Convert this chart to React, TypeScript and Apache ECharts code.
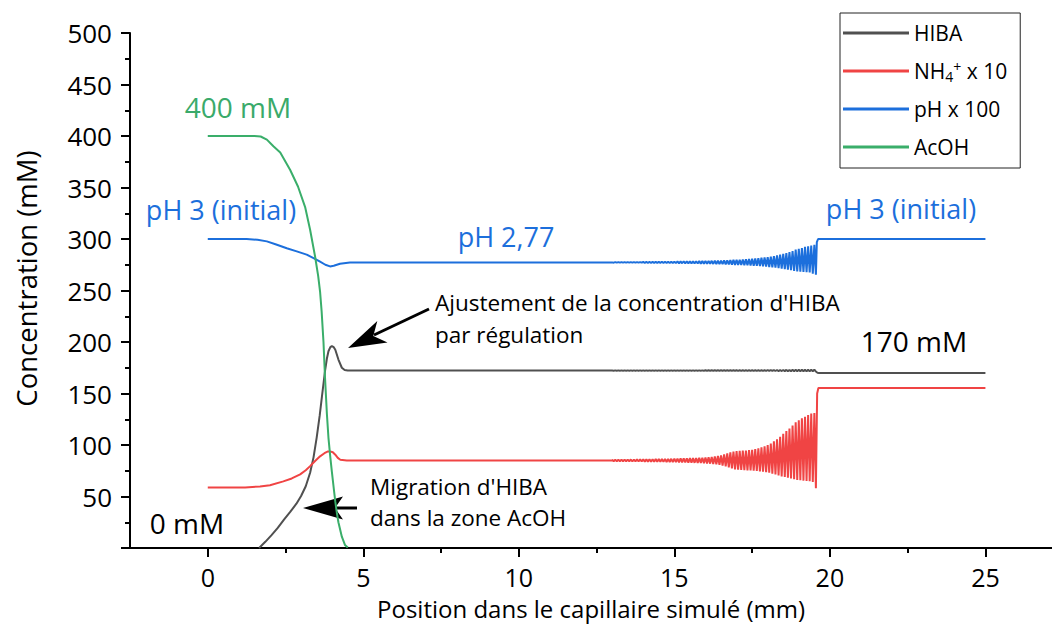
import React, { useEffect, useRef } from 'react';
import * as echarts from 'echarts';

const FONT = '"Open Sans", "Noto Sans", sans-serif';

// Axis ticks
const xMajorTicks = [0, 5, 10, 15, 20, 25];
const xMinorTicks = [2.5, 7.5, 12.5, 17.5, 22.5];

const seriesNames = ['HIBA', 'NH4+ x 10', 'pH x 100', 'AcOH'];
const seriesColors = ['#505050', '#f04444', '#1c6fdc', '#3aae6a'];

// AcOH (mM)
const acohX = [0, 1.5, 1.7, 1.9, 2.11, 2.33, 2.65, 2.9, 3.13, 3.29, 3.45, 3.55, 3.61, 3.66, 3.72, 3.77, 3.83, 3.88, 3.94, 3.99, 4.05, 4.1, 4.15, 4.2, 4.31, 4.41, 4.5];
const acohY = [400, 400, 399.5, 396.5, 390, 384, 367, 351, 331, 309, 283, 264, 249, 230, 200, 165, 130, 107, 88, 74, 58, 45, 34, 25, 11, 3, 0.5];

// HIBA (mM): rising front, regulation peak, plateau
const hibaLeadX = [1.65, 1.85, 2.05, 2.25, 2.45, 2.65, 2.85, 3.0, 3.15, 3.29, 3.4, 3.5, 3.6, 3.67, 3.77, 3.83, 3.88, 3.94, 3.99, 4.05, 4.1, 4.2, 4.31, 4.4, 4.5, 13.0];
const hibaLeadY = [0, 6, 12.5, 19.5, 27.5, 35, 43, 50.5, 60, 73, 88, 107, 129, 147, 172, 184, 191, 195, 196, 195, 192.5, 183, 175, 172.8, 172.3, 172.3];
const hibaBase = 172.3;
const hibaAmp = [
  0.15, 0.15, 0.15, 0.15, 0.15, 0.15, 0.15, 0.15, 0.15, 0.15,
  0.15, 0.15, 0.15, 0.15, 0.15, 0.15, 0.15, 0.15, 0.15, 0.15,
  0.15, 0.15, 0.15, 0.15, 0.15, 0.15, 0.15, 0.15, 0.15, 0.15,
  0.2, 0.2, 0.2, 0.2, 0.2, 0.2, 0.2, 0.2, 0.2, 0.2,
  0.3, 0.3, 0.3, 0.3, 0.3, 0.3, 0.3, 0.3, 0.3, 0.3,
  0.4, 0.4, 0.45, 0.5, 0.5, 0.55, 0.6, 0.6, 0.65, 0.7,
  0.7, 0.75, 0.8, 0.8, 0.9, 1.0,
];
const hibaTailX = [19.6, 19.65, 25];
const hibaTailY = [170.2, 170, 170];

// NH4+ x 10
const nh4LeadX = [0, 1.2, 1.68, 2.0, 2.43, 2.7, 2.97, 3.15, 3.29, 3.45, 3.61, 3.75, 3.85, 3.93, 4.02, 4.1, 4.18, 4.26, 4.47, 13.0];
const nh4LeadY = [58.8, 58.8, 59.8, 61, 64.7, 67.5, 71.5, 75.5, 79.5, 84.5, 89, 92, 93.6, 93.8, 93, 90.6, 87.5, 85.7, 85, 85];
const nh4Base = 85;
const nh4Up = [
  0.7, 0.7, 0.7, 0.8, 0.8, 0.8, 0.9, 0.9, 1.0, 1.0,
  1.1, 1.1, 1.2, 1.2, 1.3, 1.3, 1.4, 1.5, 1.5, 1.6,
  1.7, 1.8, 1.9, 2.0, 2.1, 2.2, 2.3, 2.4, 2.5, 2.7,
  2.9, 3.1, 3.4, 3.8, 4.3, 5.0, 5.8, 6.8, 7.8, 8.6,
  9.0, 9.3, 9.5, 9.7, 10.0, 10.4, 11.0, 11.8, 12.8, 13.8,
  15, 16.5, 18.5, 20.5, 23, 26, 28.5, 31, 34, 37,
  39, 41, 42.5, 44, 45.5, 46,
];
const nh4Down = [
  0.7, 0.7, 0.7, 0.8, 0.8, 0.8, 0.9, 0.9, 1.0, 1.0,
  1.1, 1.1, 1.2, 1.2, 1.3, 1.3, 1.4, 1.5, 1.5, 1.6,
  1.7, 1.8, 1.9, 2.0, 2.1, 2.2, 2.3, 2.4, 2.5, 2.7,
  2.9, 3.1, 3.4, 3.8, 4.3, 5.0, 5.8, 6.8, 7.8, 8.6,
  9.0, 9.2, 9.4, 9.6, 9.7, 9.9, 10.2, 10.6, 11.0, 11.5,
  12, 12.8, 13.5, 14.5, 15.5, 16, 16.8, 17.5, 18.3, 19,
  19.3, 19.6, 20, 20.2, 21, 27,
];
const nh4TailX = [19.59, 19.63, 25];
const nh4TailY = [150, 155.3, 155.3];

// pH x 100
const phLeadX = [0, 1.25, 1.6, 1.9, 2.2, 2.54, 2.86, 3.18, 3.4, 3.61, 3.78, 3.93, 4.05, 4.25, 4.57, 4.9, 13.0];
const phLeadY = [300, 300, 299.2, 297.7, 294.6, 291, 288, 284.8, 281.5, 278, 275, 273.4, 274, 276, 277.2, 277.3, 277.3];
const phBase = 277.3;
const phUp = [
  0.3, 0.3, 0.3, 0.3, 0.3, 0.3, 0.3, 0.3, 0.3, 0.3,
  0.4, 0.4, 0.4, 0.5, 0.5, 0.5, 0.6, 0.6, 0.6, 0.7,
  0.7, 0.8, 0.8, 0.9, 0.9, 1.0, 1.0, 1.1, 1.2, 1.2,
  1.3, 1.4, 1.5, 1.6, 1.7, 1.8, 1.9, 2.0, 2.2, 2.4,
  2.5, 2.6, 2.8, 3.0, 3.2, 3.5, 3.8, 4.1, 4.5, 4.8,
  5.0, 5.5, 6.0, 6.8, 7.5, 8.2, 9.0, 10, 11, 12.5,
  13.2, 14, 15, 15.5, 16.3, 17,
];
const phDown = [
  0.3, 0.3, 0.3, 0.3, 0.3, 0.3, 0.3, 0.3, 0.3, 0.3,
  0.4, 0.4, 0.4, 0.5, 0.5, 0.5, 0.6, 0.6, 0.6, 0.7,
  0.7, 0.8, 0.8, 0.9, 0.9, 1.0, 1.0, 1.1, 1.2, 1.2,
  1.3, 1.4, 1.5, 1.6, 1.7, 1.8, 1.9, 2.0, 2.2, 2.4,
  2.5, 2.6, 2.7, 2.9, 3.0, 3.2, 3.4, 3.6, 3.9, 4.2,
  4.5, 4.8, 5.2, 5.6, 6.0, 6.6, 7.0, 7.5, 8.2, 8.8,
  9.0, 9.3, 9.6, 9.8, 11, 12,
];
const phTailX = [19.58, 19.62, 25];
const phTailY = [297, 300, 300];

// sampling grid of the oscillating zone (mm)
const oscStart = 13.0;
const oscStep = 0.1;

function zip(xs: number[], ys: number[]) {
  return xs.map((x, i) => [x, ys[i]]);
}
function osc(base: number, up: number[], down: number[]) {
  const out: number[][] = [];
  up.forEach((u, k) => {
    const x = +(oscStart + k * oscStep).toFixed(3);
    out.push([x, base + u]);
    out.push([+(x + oscStep / 2).toFixed(3), base - down[k]]);
  });
  return out;
}

const hibaData = [...zip(hibaLeadX, hibaLeadY), ...osc(hibaBase, hibaAmp, hibaAmp), ...zip(hibaTailX, hibaTailY)];
const nh4Data = [...zip(nh4LeadX, nh4LeadY), ...osc(nh4Base, nh4Up, nh4Down), ...zip(nh4TailX, nh4TailY)];
const phData = [...zip(phLeadX, phLeadY), ...osc(phBase, phUp, phDown), ...zip(phTailX, phTailY)];
const acohData = zip(acohX, acohY);
const allData = [hibaData, nh4Data, phData, acohData];

function txt(text: string, x: number, y: number, size: number, fill: string, align = 'center') {
  return {
    type: 'text', x, y, silent: true,
    style: { text, fill, fontSize: size, fontFamily: FONT, align, verticalAlign: 'middle' },
  };
}

export default function App() {
  const ref = useRef<HTMLDivElement>(null);
  useEffect(() => {
    if (!ref.current) return;
    const chart = echarts.init(ref.current, undefined, { renderer: 'svg' });
    const axisLineStyle = { color: '#000', width: 2 };
    chart.setOption({
      animation: false,
      backgroundColor: '#fff',
      grid: { left: 130, right: 0, top: 33, bottom: 79, containLabel: false },
      legend: {
        data: seriesNames,
        orient: 'vertical',
        left: 840,
        top: 13,
        icon: 'rect',
        itemWidth: 66,
        itemHeight: 3,
        itemGap: 14,
        padding: [8, 13, 9, 3],
        borderColor: '#222',
        borderWidth: 1,
        backgroundColor: '#fff',
        selectedMode: false,
        formatter: (name: string) => (name === 'NH4+ x 10' ? '{n|NH}{sub|4}{sup|+}{n| x 10}' : name),
        textStyle: {
          fontFamily: FONT, fontSize: 21, color: '#000', lineHeight: 24,
          rich: {
            n: { fontFamily: FONT, fontSize: 21, color: '#000', lineHeight: 24, verticalAlign: 'middle' },
            sub: { fontFamily: FONT, fontSize: 14, color: '#000', lineHeight: 14, verticalAlign: 'bottom' },
            sup: { fontFamily: FONT, fontSize: 14, color: '#000', lineHeight: 14, verticalAlign: 'top' },
          },
        },
      },
      xAxis: [
        {
          type: 'value', min: -2.5, max: 27.14,
          axisLine: { show: true, onZero: false, lineStyle: axisLineStyle },
          axisTick: { show: true, customValues: xMajorTicks, length: 9, lineStyle: axisLineStyle },
          axisLabel: { customValues: xMajorTicks, fontFamily: FONT, fontSize: 25, color: '#000', margin: 16 },
          splitLine: { show: false },
          name: 'Position dans le capillaire simulé (mm)',
          nameLocation: 'middle', nameGap: 48,
          nameTextStyle: { fontFamily: FONT, fontSize: 24, color: '#000' },
        },
        {
          type: 'value', min: -2.5, max: 27.14, position: 'bottom',
          axisLine: { show: false, onZero: false },
          axisTick: { show: true, customValues: xMinorTicks, length: 5, lineStyle: axisLineStyle },
          axisLabel: { show: false },
          splitLine: { show: false },
        },
      ],
      yAxis: {
        type: 'value', min: 0, max: 500, interval: 50,
        axisLine: { show: true, onZero: false, lineStyle: axisLineStyle },
        axisTick: { show: true, length: 9, lineStyle: axisLineStyle },
        minorTick: { show: true, splitNumber: 2, length: 5, lineStyle: axisLineStyle },
        splitLine: { show: false },
        minorSplitLine: { show: false },
        axisLabel: { showMinLabel: false, fontFamily: FONT, fontSize: 26, color: '#000', margin: 18 },
        name: 'Concentration (mM)',
        nameLocation: 'middle', nameGap: 90,
        nameTextStyle: { fontFamily: FONT, fontSize: 27.5, color: '#000', padding: [0, 0, 0, 24] },
      },
      series: seriesNames.map((name, i) => ({
        type: 'line', name, data: allData[i], xAxisIndex: 0, yAxisIndex: 0,
        symbol: 'none', showSymbol: false, silent: true,
        lineStyle: { width: 2, color: seriesColors[i] },
        itemStyle: { color: seriesColors[i] },
      })),
      graphic: [
        txt('400 mM', 238, 107, 28, '#3aaa6a'),
        txt('pH 3 (initial)', 221, 209, 27, '#1c6fdc'),
        txt('pH 2,77', 506, 236, 27, '#1c6fdc'),
        txt('pH 3 (initial)', 901, 208, 27, '#1c6fdc'),
        txt('170 mM', 914, 341, 28, '#000'),
        txt('0 mM', 187, 523, 28, '#000'),
        txt("Ajustement de la concentration d'HIBA", 435, 302, 22.5, '#000', 'left'),
        txt('par régulation', 435, 334, 22.5, '#000', 'left'),
        txt("Migration d'HIBA", 370, 486, 22.5, '#000', 'left'),
        txt('dans la zone AcOH', 370, 517, 22.5, '#000', 'left'),
        { type: 'line', silent: true, shape: { x1: 429, y1: 309, x2: 374, y2: 335 }, style: { stroke: '#000', lineWidth: 3 } },
        { type: 'polygon', silent: true, shape: { points: [[348, 348], [377.3, 321], [373.3, 336.1], [387.5, 342.6]] }, style: { fill: '#000' } },
        { type: 'line', silent: true, shape: { x1: 334, y1: 508, x2: 357, y2: 508 }, style: { stroke: '#000', lineWidth: 3 } },
        { type: 'polygon', silent: true, shape: { points: [[303, 508], [343, 496.5], [335, 508], [343, 519.5]] }, style: { fill: '#000' } },
      ],
    });
    return () => chart.dispose();
  }, []);
  return <div ref={ref} style={{ position: 'absolute', left: 0, top: 0, width: 1052, height: 627 }} />;
}
